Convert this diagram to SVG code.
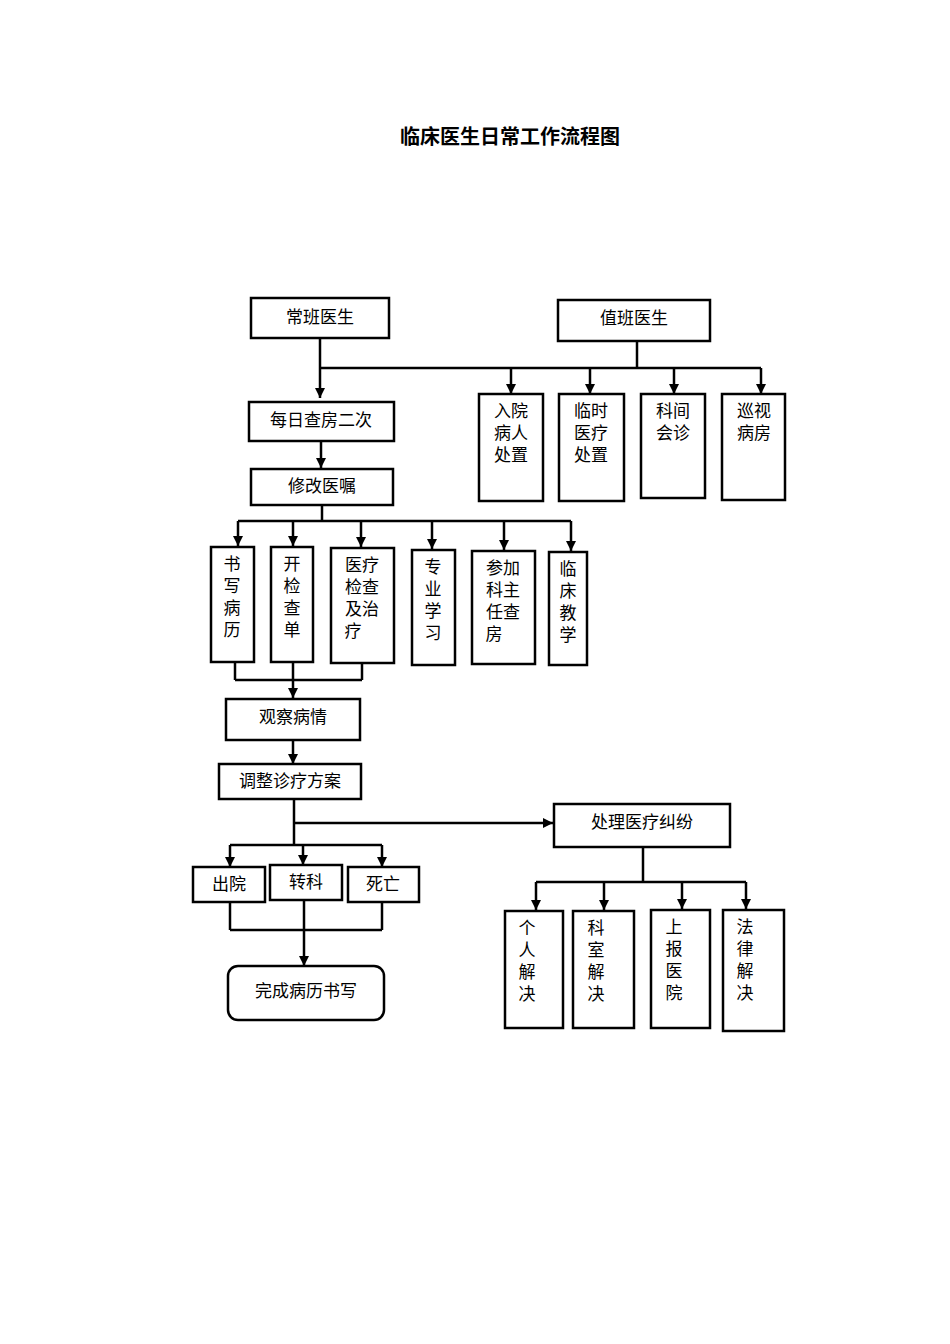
<svg xmlns="http://www.w3.org/2000/svg" width="950" height="1344" viewBox="0 0 950 1344">
<style>
rect{fill:#fff;stroke:#000;stroke-width:2.5}
text{font-family:"Liberation Serif","Noto Sans CJK SC",serif;font-size:17px;text-anchor:middle;fill:#000}
.t{font-family:"Noto Sans CJK SC",sans-serif;font-size:20px;font-weight:bold}
#c line{stroke:#000;stroke-width:2.5}
#c .a{marker-end:url(#ar)}
</style>
<defs><marker id="ar" viewBox="0 0 10 10" refX="10" refY="5" markerWidth="4" markerHeight="4" orient="auto" markerUnits="strokeWidth"><path d="M0,0L10,5L0,10z" fill="#000"/></marker></defs>
<rect width="950" height="1344" style="fill:#fff;stroke:none"/>
<text class="t" x="510" y="144">临床医生日常工作流程图</text>
<g id="c">
<line x1="320" y1="338" x2="320" y2="398" class="a"/>
<line x1="320" y1="368" x2="761" y2="368"/>
<line x1="637" y1="341" x2="637" y2="368"/>
<line x1="511" y1="368" x2="511" y2="394" class="a"/>
<line x1="590" y1="368" x2="590" y2="394" class="a"/>
<line x1="674" y1="368" x2="674" y2="394" class="a"/>
<line x1="761" y1="368" x2="761" y2="394" class="a"/>
<line x1="321" y1="441" x2="321" y2="468" class="a"/>
<line x1="322" y1="505" x2="322" y2="521"/>
<line x1="238" y1="521" x2="571" y2="521"/>
<line x1="238" y1="521" x2="238" y2="546" class="a"/>
<line x1="293" y1="521" x2="293" y2="546" class="a"/>
<line x1="361" y1="521" x2="361" y2="547" class="a"/>
<line x1="432" y1="521" x2="432" y2="549" class="a"/>
<line x1="504" y1="521" x2="504" y2="550" class="a"/>
<line x1="571" y1="521" x2="571" y2="551" class="a"/>
<line x1="235" y1="662" x2="235" y2="680"/>
<line x1="362" y1="663" x2="362" y2="680"/>
<line x1="235" y1="680" x2="362" y2="680"/>
<line x1="293" y1="662" x2="293" y2="698" class="a"/>
<line x1="293" y1="740" x2="293" y2="764" class="a"/>
<line x1="294" y1="799" x2="294" y2="845"/>
<line x1="294" y1="823" x2="553" y2="823" class="a"/>
<line x1="230" y1="845" x2="382" y2="845"/>
<line x1="230" y1="845" x2="230" y2="867" class="a"/>
<line x1="303" y1="845" x2="303" y2="865" class="a"/>
<line x1="382" y1="845" x2="382" y2="867" class="a"/>
<line x1="230" y1="902" x2="230" y2="930"/>
<line x1="382" y1="902" x2="382" y2="930"/>
<line x1="230" y1="930" x2="382" y2="930"/>
<line x1="304" y1="900" x2="304" y2="966" class="a"/>
<line x1="643" y1="847" x2="643" y2="882"/>
<line x1="536" y1="882" x2="746" y2="882"/>
<line x1="536" y1="882" x2="536" y2="910" class="a"/>
<line x1="604" y1="882" x2="604" y2="910" class="a"/>
<line x1="682" y1="882" x2="682" y2="909" class="a"/>
<line x1="746" y1="882" x2="746" y2="909" class="a"/>
</g>
<g id="n1"><rect x="251" y="298" width="138" height="40"/><text x="320" y="323">常班医生</text></g>
<g id="n2"><rect x="558" y="300" width="152" height="41"/><text x="634" y="324">值班医生</text></g>
<g id="n3"><rect x="479" y="394" width="64" height="107"/><text x="511" y="417">入院</text><text x="511" y="439">病人</text><text x="511" y="461">处置</text></g>
<g id="n4"><rect x="559" y="394" width="65" height="107"/><text x="591" y="417">临时</text><text x="591" y="439">医疗</text><text x="591" y="461">处置</text></g>
<g id="n5"><rect x="641" y="394" width="64" height="104"/><text x="673" y="417">科间</text><text x="673" y="439">会诊</text></g>
<g id="n6"><rect x="722" y="394" width="63" height="106"/><text x="754" y="417">巡视</text><text x="754" y="439">病房</text></g>
<g id="n7"><rect x="249" y="402" width="145" height="39"/><text x="321" y="426">每日查房二次</text></g>
<g id="n8"><rect x="251" y="469" width="142" height="36"/><text x="322" y="492">修改医嘱</text></g>
<g id="n9"><rect x="211" y="547" width="43" height="115"/><text x="232" y="570">书</text><text x="232" y="592">写</text><text x="232" y="614">病</text><text x="232" y="636">历</text></g>
<g id="n10"><rect x="271" y="547" width="42" height="115"/><text x="292" y="570">开</text><text x="292" y="592">检</text><text x="292" y="614">查</text><text x="292" y="636">单</text></g>
<g id="n11"><rect x="331" y="548" width="63" height="115"/><text x="362" y="571">医疗</text><text x="362" y="593">检查</text><text x="362" y="615">及治</text><text x="353" y="637">疗</text></g>
<g id="n12"><rect x="412" y="550" width="43" height="115"/><text x="433" y="573">专</text><text x="433" y="595">业</text><text x="433" y="617">学</text><text x="433" y="639">习</text></g>
<g id="n13"><rect x="472" y="551" width="63" height="113"/><text x="503" y="574">参加</text><text x="503" y="596">科主</text><text x="503" y="618">任查</text><text x="494" y="640">房</text></g>
<g id="n14"><rect x="549" y="552" width="38" height="113"/><text x="568" y="575">临</text><text x="568" y="597">床</text><text x="568" y="619">教</text><text x="568" y="641">学</text></g>
<g id="n15"><rect x="226" y="699" width="134" height="41"/><text x="293" y="723">观察病情</text></g>
<g id="n16"><rect x="219" y="764" width="142" height="35"/><text x="290" y="787">调整诊疗方案</text></g>
<g id="n17"><rect x="554" y="804" width="176" height="43"/><text x="642" y="828">处理医疗纠纷</text></g>
<g id="n18"><rect x="193" y="867" width="72" height="35"/><text x="229" y="890">出院</text></g>
<g id="n19"><rect x="270" y="865" width="72" height="35"/><text x="306" y="888">转科</text></g>
<g id="n20"><rect x="348" y="867" width="71" height="35"/><text x="383" y="890">死亡</text></g>
<g id="n21"><rect x="228" y="966" width="156" height="54" rx="10"/><text x="306" y="997">完成病历书写</text></g>
<g id="n22"><rect x="505" y="911" width="58" height="117"/><text x="527" y="934">个</text><text x="527" y="956">人</text><text x="527" y="978">解</text><text x="527" y="1000">决</text></g>
<g id="n23"><rect x="573" y="911" width="61" height="117"/><text x="596" y="934">科</text><text x="596" y="956">室</text><text x="596" y="978">解</text><text x="596" y="1000">决</text></g>
<g id="n24"><rect x="651" y="910" width="59" height="118"/><text x="674" y="933">上</text><text x="674" y="955">报</text><text x="674" y="977">医</text><text x="674" y="999">院</text></g>
<g id="n25"><rect x="723" y="910" width="61" height="121"/><text x="745" y="933">法</text><text x="745" y="955">律</text><text x="745" y="977">解</text><text x="745" y="999">决</text></g>
</svg>
